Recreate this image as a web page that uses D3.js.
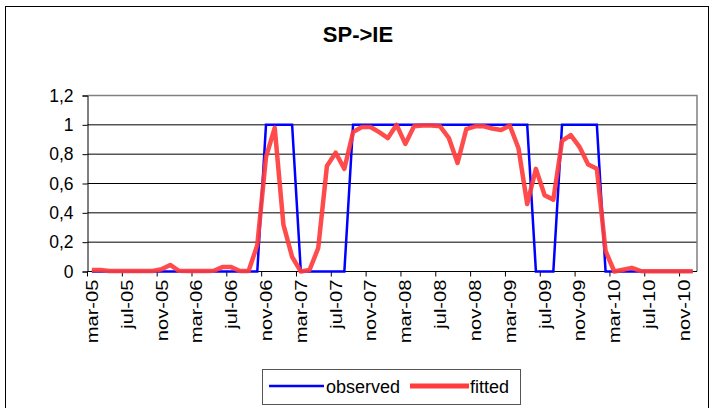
<!DOCTYPE html>
<html>
<head>
<meta charset="utf-8">
<script src="https://cdn.jsdelivr.net/npm/d3@7/dist/d3.min.js"></script>
<style>
  html, body { margin: 0; padding: 0; background: #fff; }
  svg { display: block; }
  text { font-family: "Liberation Sans", Arial, sans-serif; fill: #000; }
</style>
</head>
<body>
<svg id="chart" width="711" height="408"></svg>
<script>
const title = "SP->IE";
const categories = [
  "mar-05","apr-05","may-05","jun-05","jul-05","aug-05","sep-05","oct-05","nov-05","dec-05",
  "jan-06","feb-06","mar-06","apr-06","may-06","jun-06","jul-06","aug-06","sep-06","oct-06","nov-06","dec-06",
  "jan-07","feb-07","mar-07","apr-07","may-07","jun-07","jul-07","aug-07","sep-07","oct-07","nov-07","dec-07",
  "jan-08","feb-08","mar-08","apr-08","may-08","jun-08","jul-08","aug-08","sep-08","oct-08","nov-08","dec-08",
  "jan-09","feb-09","mar-09","apr-09","may-09","jun-09","jul-09","aug-09","sep-09","oct-09","nov-09","dec-09",
  "jan-10","feb-10","mar-10","apr-10","may-10","jun-10","jul-10","aug-10","sep-10","oct-10","nov-10","dec-10"
];
const observed = [
  0,0,0,0,0,0,0,0,0,0, 0,0,0,0,0,0,0,0,0,0,
  1,1,1,1,
  0,0,0,0,0,0,
  1,1,1,1,1,1,1,1,1,1, 1,1,1,1,1,1,1,1,1,1, 1,
  0,0,0,
  1,1,1,1,1,
  0,0,0,0,0,0,0,0,0,0,0
];
const fitted = [
  0.010,0.010,0.004,0.003,0.003,0.003,0.003,0.004,0.015,0.045,
  0.005,0.003,0.003,0.003,0.005,0.030,0.030,0.003,0.003,0.180,
  0.780,0.980,0.320,0.100,0.000,0.010,0.160,0.720,0.810,0.700,
  0.950,0.985,0.985,0.950,0.910,1.000,0.870,0.990,0.995,0.995,
  0.990,0.910,0.740,0.970,0.990,0.990,0.975,0.965,0.995,0.840,
  0.460,0.700,0.520,0.490,0.890,0.930,0.850,0.730,0.700,0.140,
  0.000,0.012,0.025,0.004,0.002,0.002,0.002,0.002,0.002,0.002
];
const yTicks = [0, 0.2, 0.4, 0.6, 0.8, 1, 1.2];
const xTickLabels = ["mar-05","jul-05","nov-05","mar-06","jul-06","nov-06","mar-07","jul-07","nov-07",
  "mar-08","jul-08","nov-08","mar-09","jul-09","nov-09","mar-10","jul-10","nov-10"];
const seriesNames = ["observed", "fitted"];
const seriesColors = ["#0000ff", "#ff3c3c"];

const svg = d3.select("#chart");
const plot = { left: 87.5, right: 697, top: 95.5, bottom: 271.5 };

// outer chart border
svg.append("rect").attr("x", 5.5).attr("y", 6.5).attr("width", 703).attr("height", 420)
  .attr("fill", "none").attr("stroke", "#000").attr("stroke-width", 1);

svg.append("text").attr("x", 358).attr("y", 42).attr("text-anchor", "middle")
  .style("font-size", "22px").style("font-weight", "bold").text(title);

const x = d3.scaleBand().domain(categories).range([plot.left, plot.right]).padding(0);
const y = d3.scaleLinear().domain([0, 1.2]).range([plot.bottom, plot.top]);
const cx = d => x(d) + x.bandwidth() / 2;

// gridlines
svg.append("g").selectAll("line").data(yTicks.filter(t => t > 0 && t < 1.2)).join("line")
  .attr("x1", plot.left).attr("x2", plot.right)
  .attr("y1", d => y(d)).attr("y2", d => y(d))
  .attr("stroke", "#000").attr("stroke-width", 1);

// plot border (top & right grey)
svg.append("path")
  .attr("d", `M${plot.left},${plot.top}H${plot.right}V${plot.bottom}`)
  .attr("fill", "none").attr("stroke", "#808080").attr("stroke-width", 1.5);

// y axis
const yAxis = d3.axisLeft(y).tickValues(yTicks).tickSize(5).tickPadding(9)
  .tickFormat(d => d3.format("~g")(d).replace(".", ","));
const gy = svg.append("g").attr("transform", `translate(${plot.left},0)`).call(yAxis);
gy.select(".domain").attr("stroke", "#000");
gy.selectAll(".tick line").attr("stroke", "#000");
gy.selectAll("text").style("font-size", "17.5px").style("font-family", "'Liberation Sans', Arial, sans-serif");

// x axis
const gx = svg.append("g").attr("transform", `translate(0,${plot.bottom})`);
gx.append("line").attr("x1", plot.left).attr("x2", plot.right).attr("stroke", "#000");
gx.selectAll("line.tk").data(xTickLabels).join("line").attr("class", "tk")
  .attr("x1", d => x(d)).attr("x2", d => x(d)).attr("y1", 0).attr("y2", 5).attr("stroke", "#000");
gx.selectAll("text").data(xTickLabels).join("text")
  .attr("transform", d => `translate(${cx(d) + 6},8) rotate(-90) scale(1.12,0.95)`)
  .attr("text-anchor", "end")
  .style("font-size", "18px")
  .text(d => d);

// series
const line = d3.line().x((d, i) => cx(categories[i])).y(d => y(d));
svg.append("path").datum(observed).attr("d", line)
  .attr("fill", "none").attr("stroke", seriesColors[0]).attr("stroke-width", 2.5)
  .attr("stroke-linejoin", "miter");
svg.append("path").datum(fitted).attr("d", line)
  .attr("fill", "none").attr("stroke", seriesColors[1]).attr("stroke-width", 4.5)
  .attr("stroke-linejoin", "round").attr("opacity", 0.92);

// legend
const lg = svg.append("g");
lg.append("rect").attr("x", 262.5).attr("y", 369.5).attr("width", 258).attr("height", 35)
  .attr("fill", "#fff").attr("stroke", "#555").attr("stroke-width", 1);
lg.append("line").attr("x1", 269).attr("x2", 324).attr("y1", 386).attr("y2", 386)
  .attr("stroke", seriesColors[0]).attr("stroke-width", 2.5);
lg.append("text").attr("x", 326).attr("y", 392.5).style("font-size", "18px").text(seriesNames[0]);
lg.append("line").attr("x1", 410).attr("x2", 469).attr("y1", 386).attr("y2", 386)
  .attr("stroke", seriesColors[1]).attr("stroke-width", 5);
lg.append("text").attr("x", 470).attr("y", 392.5).style("font-size", "18px").text(seriesNames[1]);
</script>
</body>
</html>
